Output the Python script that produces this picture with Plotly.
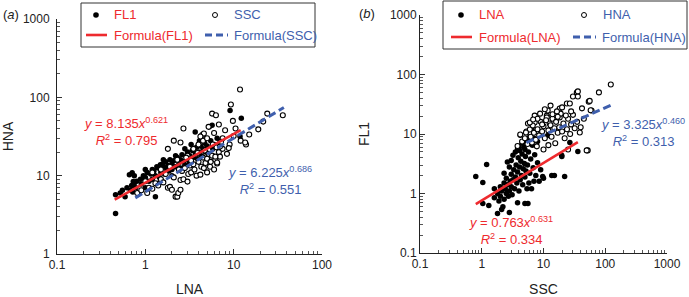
import numpy as np
import plotly.graph_objects as go

# ---------------- data ----------------
# Panel (a): x = LNA, y = HNA
a_fl1_x = [0.46, 0.46, 0.52, 0.55, 0.59, 0.62, 0.66, 0.68, 0.7, 0.72, 0.75, 0.78, 0.8, 0.85, 0.88, 0.9, 0.95,
           1.0, 1.0, 1.05, 1.1, 1.15, 1.2, 1.2, 1.25, 1.3, 1.3, 1.35, 1.4, 1.45, 1.5, 1.55, 1.6, 1.65, 1.7,
           1.75, 1.8, 1.85, 1.9, 2.0, 2.0, 2.1, 2.2, 2.3, 2.4, 2.5, 2.5, 2.6, 2.7, 2.8, 2.9, 3.0, 3.0, 3.1,
           3.2, 3.4, 3.5, 3.67, 3.7, 3.8, 3.9, 4.0, 4.2, 4.3, 4.5, 4.7, 4.8, 5.0, 5.3, 5.5, 5.7, 5.8, 6.0,
           6.5, 7.0, 9.1, 11.8, 12.2, 2.2, 1.6, 2.8, 3.3, 4.1, 1.0, 0.75, 1.4, 2.0, 2.6, 0.71, 0.73, 1.48]
a_fl1_y = [3.3, 5.7, 6.0, 6.5, 5.4, 7.0, 10.3, 6.5, 7.5, 6.2, 8.0, 7.0, 8.5, 6.0, 9.0, 7.8, 10.0,
           9.5, 7.0, 11.0, 8.5, 10.5, 12.0, 9.0, 11.5, 5.4, 10.0, 13.0, 12.5, 9.5, 11.0, 14.0, 13.0, 10.5, 15.0,
           12.0, 13.5, 11.5, 16.0, 14.0, 12.0, 15.5, 13.0, 17.0, 14.5, 16.0, 12.5, 18.5, 15.0, 13.5, 17.5, 20.0, 16.0, 14.0,
           18.0, 21.0, 17.0, 36.0, 19.0, 23.0, 16.5, 20.0, 24.0, 18.0, 22.0, 26.0, 20.0, 24.0, 42.0, 28.0, 44.0, 22.0, 25.0,
           30.0, 27.0, 68.0, 31.6, 54.0, 18.0, 16.0, 22.0, 25.0, 28.0, 12.0, 10.0, 8.0, 10.0, 11.5, 10.9, 8.4, 13.8]

a_ssc_x = [0.81, 0.9, 1.05, 1.1, 1.2, 1.3, 1.4, 1.5, 1.6, 1.7, 1.8, 1.9, 2.0, 2.1, 2.2, 2.3, 2.36, 2.5, 2.5,
           2.6, 2.7, 2.8, 3.0, 3.06, 3.2, 3.3, 3.5, 3.6, 3.8, 4.0, 4.2, 4.3, 4.5, 4.6, 4.8, 5.0, 5.0, 5.2, 5.4,
           5.5, 5.7, 6.0, 6.2, 6.5, 6.5, 6.8, 7.0, 7.5, 8.4, 9.0, 1.8, 2.1, 2.5, 2.7, 3.0, 3.5, 4.0, 4.5, 5.0,
           5.7, 6.3, 6.0, 6.8, 7.5, 8.0, 9.3, 10.0, 11.8, 12.0, 13.8, 15.0, 19.0, 21.6, 24.0, 36.0, 1.5, 1.2,
           3.9, 2.3, 2.9, 5.8, 7.2, 8.8, 4.7, 3.3, 1.0, 1.9, 2.4, 6.4, 10.5, 9.8, 5.2, 4.4, 4.6, 4.2, 6.2, 7.0, 13.5]
a_ssc_y = [6.0, 6.5, 6.0, 7.0, 6.8, 8.0, 7.5, 9.0, 8.2, 10.5, 7.0, 7.2, 6.6, 9.5, 5.4, 5.4, 6.0, 6.6, 8.8,
           11.5, 9.0, 12.5, 8.4, 10.5, 13.5, 11.0, 14.0, 12.0, 10.0, 15.0, 10.3, 13.0, 17.0, 12.5, 14.5, 11.0, 16.5, 19.0, 13.0,
           15.0, 18.0, 12.0, 16.0, 14.3, 14.7, 20.0, 17.5, 22.0, 19.0, 25.0, 22.0, 28.0, 26.5, 40.0, 18.0, 22.0, 25.0, 28.0, 30.0,
           62.0, 59.0, 35.0, 45.0, 30.0, 38.0, 81.0, 32.0, 126.0, 28.0, 25.0, 33.5, 39.0, 49.0, 62.0, 59.0, 12.0, 11.0,
           19.5, 16.0, 17.0, 25.0, 27.0, 22.5, 21.0, 15.5, 8.5, 13.0, 12.0, 23.0, 40.0, 50.0, 42.0, 33.0, 34.5, 31.6, 17.5, 23.5, 26.5]

# Panel (b): x = SSC, y = FL1
b_lna_x = [0.8, 1.04, 1.2, 1.04, 1.3, 1.8, 2.1, 2.8, 3.8, 5.0, 5.6, 9.7, 13.6, 15.0, 22.0, 19.8, 36.0, 4.1, 5.3,
           11.7, 26.7, 19.7, 1.6, 1.8, 1.9, 2.0, 2.0, 2.1, 2.2, 2.3, 2.3, 2.4, 2.5, 2.5, 2.6, 2.7, 2.8, 2.9, 3.0,
           3.0, 3.1, 3.2, 3.3, 3.4, 3.5, 3.6, 3.7, 3.8, 3.9, 4.0, 4.1, 4.2, 4.3, 4.4, 4.5, 4.6, 4.7, 4.8, 4.9,
           5.0, 5.1, 5.2, 5.4, 5.5, 5.7, 5.8, 6.0, 6.2, 6.4, 6.6, 6.8, 7.0, 7.2, 7.5, 8.0, 8.5, 9.0, 10.0, 3.0,
           3.5, 4.0, 4.5, 2.8, 2.6, 3.2, 5.5, 6.0, 4.2, 7.0, 8.0, 3.8, 5.0, 2.3, 1.6, 6.5, 9.0]
b_lna_y = [1.93, 1.53, 3.07, 0.68, 0.63, 0.46, 0.54, 0.48, 0.7, 0.68, 0.68, 1.93, 2.0, 2.0, 1.93, 4.2, 5.1, 5.3, 7.2,
           9.4, 7.2, 4.4, 0.85, 1.0, 0.75, 1.3, 0.9, 1.1, 0.6, 1.5, 0.8, 1.2, 1.0, 1.8, 1.4, 0.9, 1.1, 1.6, 2.1,
           1.3, 0.95, 1.7, 2.5, 1.2, 1.9, 3.0, 1.5, 2.3, 4.0, 1.1, 2.8, 1.7, 3.5, 2.0, 4.6, 1.4, 2.6, 6.0, 3.2,
           1.9, 4.2, 2.4, 1.2, 3.0, 5.0, 1.5, 2.2, 3.8, 1.2, 6.5, 2.7, 1.6, 4.5, 2.0, 3.3, 1.6, 2.5, 1.8, 3.6,
           5.0, 6.0, 7.0, 2.8, 3.4, 4.4, 8.0, 9.0, 9.5, 8.5, 7.5, 5.6, 5.5, 2.2, 1.2, 12.0, 10.0]

b_hna_x = [123, 79, 54, 34.6, 36, 23.9, 52, 60, 38.7, 5.3, 5.6, 7.2, 11.3, 12.6, 18.3, 36, 56, 30, 18.3,
           26.7, 6.7, 6.0, 5.2, 7.2, 6.0, 11.3, 11.7, 58, 50, 4.5, 5.0, 5.5, 6.2, 6.5, 7.0, 7.5, 8.0, 8.5,
           9.0, 9.5, 10.0, 10.5, 11.0, 12.0, 13.0, 13.5, 14.0, 15.0, 15.5, 16.0, 17.0, 18.0, 19.0, 20.0, 21.0,
           22.0, 24.0, 25.0, 27.0, 28.0, 30.0, 32.0, 35.0, 40.0, 45.0, 8.0, 9.5, 7.8, 10.0, 12.0, 14.0, 16.5,
           6.8, 8.8, 10.5, 20.0, 42.0, 25.0, 3.8, 4.2, 13.0, 17.0, 23.0, 28.0]
b_hna_y = [68, 50, 35, 49.6, 42.7, 32.6, 5.3, 24.8, 10.6, 11, 15, 15.6, 20.4, 15, 19, 52, 36, 42.7, 26.8,
           32.6, 13.9, 11.9, 10.6, 20.4, 15.6, 19, 24.8, 25, 5.3, 7.5, 8.5, 6.8, 9.0, 7.2, 10.5, 8.0, 12.0, 9.5,
           16.0, 11.0, 13.5, 8.5, 17.0, 11.5, 14.0, 9.0, 18.0, 12.5, 7.0, 16.0, 10.5, 13.0, 22.0, 11.0, 15.0,
           8.5, 12.0, 18.0, 10.0, 14.5, 21.0, 12.5, 16.0, 13.0, 18.0, 18.0, 14.5, 6.2, 5.5, 6.5, 21.5, 24.0,
           17.5, 22.0, 26.0, 28.0, 27.0, 5.5, 6.3, 9.8, 30.0, 19.5, 20.5, 24.0]

# Power-law fits y = c * x^k, with the x-range each fitted line spans
fit_names = ["Formula(FL1)", "Formula(SSC)", "Formula(LNA)", "Formula(HNA)"]
fit_coef = [8.135, 6.225, 0.763, 3.325]
fit_exp = [0.621, 0.686, 0.631, 0.460]
fit_r2 = [0.795, 0.551, 0.334, 0.313]
fit_xmin = [0.45, 0.77, 0.8, 5.3]
fit_xmax = [12.0, 37.0, 36.0, 127.0]

x_ticks_a = [0.1, 1, 10, 100]
y_ticks_a = [1, 10, 100, 1000]
x_ticks_b = [0.1, 1, 10, 100, 1000]
y_ticks_b = [0.1, 1, 10, 100, 1000]

# ---------------- styling ----------------
RED = "#EE2A2E"
BLUE = "#3F5FAD"
FONT = "Liberation Sans, Arial, sans-serif"
W, H = 689, 297


def px(x):
    return x / W


def py(y):
    return 1 - y / H


fig = go.Figure()

filled = dict(color="black", size=5.5, line=dict(width=0))
hollow = dict(color="white", size=5, line=dict(width=1.1, color="black"))

fig.add_trace(go.Scatter(x=a_fl1_x, y=a_fl1_y, mode="markers", marker=filled, name="FL1",
                         xaxis="x", yaxis="y", showlegend=False))
fig.add_trace(go.Scatter(x=a_ssc_x, y=a_ssc_y, mode="markers", marker=hollow, name="SSC",
                         xaxis="x", yaxis="y", showlegend=False))
fig.add_trace(go.Scatter(x=b_lna_x, y=b_lna_y, mode="markers", marker=filled, name="LNA",
                         xaxis="x2", yaxis="y2", showlegend=False))
fig.add_trace(go.Scatter(x=b_hna_x, y=b_hna_y, mode="markers", marker=hollow, name="HNA",
                         xaxis="x2", yaxis="y2", showlegend=False))

fit_axes = [("x", "y"), ("x", "y"), ("x2", "y2"), ("x2", "y2")]
fit_colors = [RED, BLUE, RED, BLUE]
fit_dash = ["solid", "8px,4px", "solid", "8px,4px"]
for i in range(4):
    xs = np.logspace(np.log10(fit_xmin[i]), np.log10(fit_xmax[i]), 20)
    ys = fit_coef[i] * xs ** fit_exp[i]
    fig.add_trace(go.Scatter(x=xs, y=ys, mode="lines", name=fit_names[i],
                             line=dict(color=fit_colors[i], width=2.6 if fit_dash[i] == "solid" else 3,
                                       dash=fit_dash[i]),
                             xaxis=fit_axes[i][0], yaxis=fit_axes[i][1], showlegend=False))


def log_axis(domain, rng, ticks, anchor):
    return dict(type="log", domain=domain, range=rng, anchor=anchor,
                tickvals=ticks, ticktext=[f"{t:g}" for t in ticks],
                ticks="inside", ticklen=5, tickwidth=1, tickcolor="#333",
                minor=dict(ticks="inside", ticklen=3, tickwidth=0.8, tickcolor="#555", dtick="D1", showgrid=False),
                showline=True, linecolor="#222", linewidth=1, mirror=False,
                showgrid=False, zeroline=False, automargin=False,
                tickfont=dict(family=FONT, size=12, color="#222"))


title_font = dict(family=FONT, size=14, color="#222")
xa = log_axis([px(57), px(322)], [-1, 2], x_ticks_a, "y")
xa["title"] = dict(text="LNA", font=title_font, standoff=14)
ya = log_axis([py(254), py(19)], [0, 3], y_ticks_a, "x")
ya["ticklabelstandoff"] = 4
ya["title"] = dict(text="HNA", font=title_font, standoff=7)
xb = log_axis([px(420), px(667)], [-1, 3], x_ticks_b, "y2")
xb["title"] = dict(text="SSC", font=title_font, standoff=14)
yb = log_axis([py(253), py(15)], [-1, 3], y_ticks_b, "x2")
yb["title"] = dict(text="FL1", font=title_font, standoff=16)

fig.update_layout(width=W, height=H, margin=dict(l=0, r=0, t=0, b=0),
                  paper_bgcolor="white", plot_bgcolor="white",
                  font=dict(family=FONT, size=12, color="#222"),
                  xaxis=xa, yaxis=ya, xaxis2=xb, yaxis2=yb, showlegend=False)

shapes = []
annotations = []


def legend_box(x0, y0, x1, y1, items):
    shapes.append(dict(type="rect", xref="paper", yref="paper", x0=px(x0), x1=px(x1), y0=py(y1), y1=py(y0),
                       line=dict(color="#333", width=1), fillcolor="white", layer="above"))
    for kind, sx, sy, text, color in items:
        if kind == "dot":
            shapes.append(dict(type="circle", xref="paper", yref="paper", x0=px(sx - 2.8), x1=px(sx + 2.8),
                               y0=py(sy + 2.8), y1=py(sy - 2.8), fillcolor="black", line=dict(width=0)))
            tx = sx + 16
        elif kind == "ring":
            shapes.append(dict(type="circle", xref="paper", yref="paper", x0=px(sx - 2.5), x1=px(sx + 2.5),
                               y0=py(sy + 2.5), y1=py(sy - 2.5), fillcolor="white",
                               line=dict(width=1, color="black")))
            tx = sx + 17
        elif kind == "line":
            shapes.append(dict(type="line", xref="paper", yref="paper", x0=px(sx), x1=px(sx + 21),
                               y0=py(sy), y1=py(sy), line=dict(color=color, width=2.6)))
            tx = sx + 26
        else:
            shapes.append(dict(type="line", xref="paper", yref="paper", x0=px(sx), x1=px(sx + 23),
                               y0=py(sy), y1=py(sy), line=dict(color=color, width=3, dash="7px,4px")))
            tx = sx + 27
        annotations.append(dict(xref="paper", yref="paper", x=px(tx), y=py(sy), text=text, showarrow=False,
                                xanchor="left", yanchor="middle",
                                font=dict(family=FONT, size=13, color=color)))


legend_box(81, 3, 315, 47, [("dot", 96, 15, "FL1", RED), ("ring", 215, 15, "SSC", BLUE),
                             ("line", 86, 35, "Formula(FL1)", RED), ("dash", 205, 35, "Formula(SSC)", BLUE)])
legend_box(443, 1, 687, 49, [("dot", 461, 15, "LNA", RED), ("ring", 584, 15, "HNA", BLUE),
                              ("line", 451, 37, "Formula(LNA)", RED), ("dash", 573, 37, "Formula(HNA)", BLUE)])


def eq_text(i, cx, cy):
    c = f"{fit_coef[i]:.3f}"
    k = f"{fit_exp[i]:.3f}"
    color = fit_colors[i]
    annotations.append(dict(xref="paper", yref="paper", x=px(cx), y=py(cy), showarrow=False,
                            text=(f"<i>y</i> = {c}<i>x</i><sup>{k}</sup><br>"
                                  f"<i>R</i><sup>2</sup> = {fit_r2[i]:.3f}"),
                            align="center", xanchor="center", yanchor="middle",
                            font=dict(family=FONT, size=13, color=color)))


eq_text(0, 126, 131)
eq_text(1, 270, 180)
eq_text(2, 511, 230)
eq_text(3, 643, 132)

annotations.append(dict(xref="paper", yref="paper", x=px(1), y=py(14), text="(<i>a</i>)", showarrow=False,
                        xanchor="left", yanchor="middle", font=dict(family=FONT, size=13, color="#222")))
annotations.append(dict(xref="paper", yref="paper", x=px(357), y=py(13), text="(<i>b</i>)", showarrow=False,
                        xanchor="left", yanchor="middle", font=dict(family=FONT, size=13, color="#222")))

fig.update_layout(shapes=shapes, annotations=annotations)
fig.write_html("out.html", config={"displayModeBar": False},
               post_script="document.body.style.margin='0';document.body.style.padding='0';")
